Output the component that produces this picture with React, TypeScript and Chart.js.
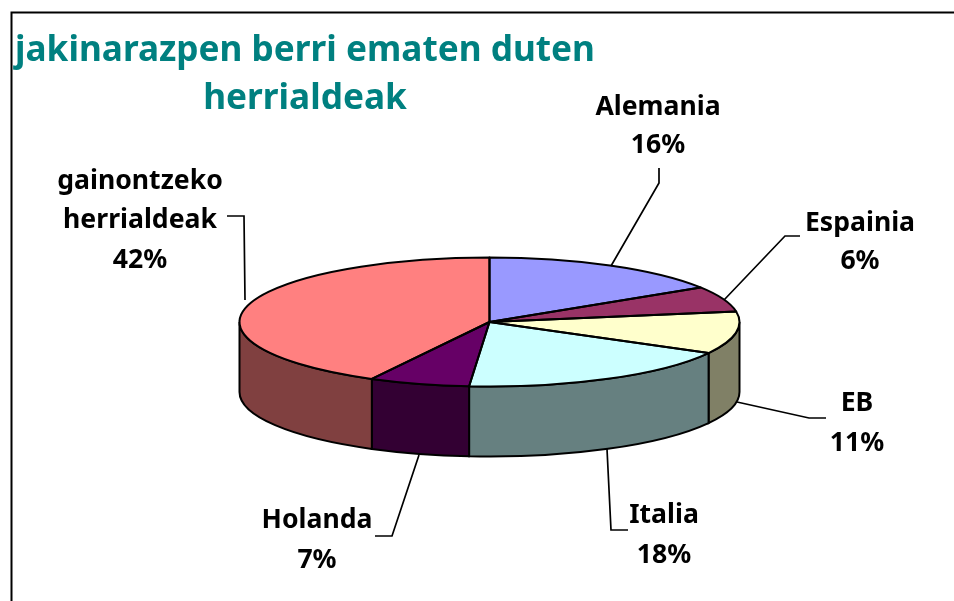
import React, { useEffect, useRef } from "react";
import { Chart, registerables } from "chart.js";

Chart.register(...registerables);

const categories = ["Alemania", "Espainia", "EB", "Italia", "Holanda", "gainontzeko herrialdeak"];
const shares = [16, 6.4, 10.6, 18.3, 6.5, 42.2];
const topColors = ["#9999FF", "#993366", "#FFFFCC", "#CCFFFF", "#660066", "#FF8080"];
const wallColors = ["#4D4D80", "#4D1A33", "#808066", "#668080", "#330033", "#804040"];
const titleLines = ["jakinarazpen berri ematen duten", "herrialdeak"];

const FONT = '"Noto Sans", sans-serif';
const SQUASH = 64.5 / 250;
const DEPTH = 70;

const labelLayout = [
  { x: 658, y: [115, 153], leader: [[659, 168], [659, 183], [611, 266]] },
  { x: 860, y: [231, 269], leader: [[800, 236], [785, 236], [724, 300]] },
  { x: 857, y: [411, 451], leader: [[826, 418], [809, 418], [737, 402]] },
  { x: 664, y: [523, 563], leader: [[628, 530], [611, 530], [607, 449]] },
  { x: 317, y: [528, 568], leader: [[375, 536], [392, 536], [419, 455]] },
  { x: 140, y: [189, 228, 268], leader: [[227, 216], [244, 216], [245, 300]] },
];

const pie3d = {
  id: "pie3d",
  beforeDraw(chart: any) {
    const { ctx } = chart;
    ctx.save();
    ctx.fillStyle = "#FFFFFF";
    ctx.fillRect(0, 0, chart.width, chart.height);
    ctx.strokeStyle = "#000000";
    ctx.lineWidth = 2;
    ctx.beginPath();
    ctx.moveTo(11.5, chart.height);
    ctx.lineTo(11.5, 12.5);
    ctx.lineTo(chart.width, 12.5);
    ctx.stroke();
    ctx.restore();
  },
  beforeDatasetsDraw(chart: any) {
    const { ctx } = chart;
    const arcs = chart.getDatasetMeta(0).data;
    ctx.save();
    ctx.strokeStyle = "#000000";
    ctx.lineWidth = 2;
    arcs.forEach((arc: any, i: number) => {
      const a0 = Math.max(arc.startAngle, 0);
      const a1 = Math.min(arc.endAngle, Math.PI);
      if (a1 <= a0) return;
      const rx = arc.outerRadius;
      const ry = rx * SQUASH;
      ctx.beginPath();
      ctx.ellipse(arc.x, arc.y, rx, ry, 0, a0, a1);
      ctx.ellipse(arc.x, arc.y + DEPTH, rx, ry, 0, a1, a0, true);
      ctx.closePath();
      ctx.fillStyle = wallColors[i];
      ctx.fill();
      ctx.stroke();
    });
    ctx.restore();
    const first = arcs[0];
    ctx.save();
    ctx.translate(first.x, first.y);
    ctx.scale(1, SQUASH);
    ctx.translate(-first.x, -first.y);
  },
  afterDatasetsDraw(chart: any) {
    const { ctx } = chart;
    ctx.restore();
    const arcs = chart.getDatasetMeta(0).data;
    ctx.save();
    ctx.strokeStyle = "#000000";
    ctx.lineWidth = 2;
    ctx.lineJoin = "round";
    arcs.forEach((arc: any) => {
      const rx = arc.outerRadius;
      ctx.beginPath();
      ctx.moveTo(arc.x, arc.y);
      ctx.ellipse(arc.x, arc.y, rx, rx * SQUASH, 0, arc.startAngle, arc.endAngle);
      ctx.closePath();
      ctx.stroke();
    });
    ctx.restore();
  },
  afterDraw(chart: any) {
    const { ctx } = chart;
    ctx.save();
    ctx.textAlign = "center";
    ctx.textBaseline = "alphabetic";
    ctx.fillStyle = "#008080";
    ctx.font = `bold 35.2px ${FONT}`;
    ctx.fillText(titleLines[0], 305, 61);
    ctx.fillText(titleLines[1], 305, 109);

    ctx.fillStyle = "#000000";
    ctx.font = `bold 26.6px ${FONT}`;
    labelLayout.forEach((lay, i) => {
      const lines = [...categories[i].split(" "), `${Math.round(shares[i])}%`];
      lines.forEach((line, j) => ctx.fillText(line, lay.x, lay.y[j]));
      ctx.beginPath();
      ctx.strokeStyle = "#000000";
      ctx.lineWidth = 1.7;
      lay.leader.forEach(([x, y], j) => (j ? ctx.lineTo(x, y) : ctx.moveTo(x, y)));
      ctx.stroke();
    });
    ctx.restore();
  },
};

export default function App() {
  const ref = useRef<HTMLCanvasElement>(null);
  useEffect(() => {
    const chart = new Chart(ref.current!, {
      type: "pie",
      data: {
        labels: categories,
        datasets: [{ data: shares, backgroundColor: topColors, borderWidth: 0 }],
      },
      options: {
        animation: false,
        responsive: false,
        layout: { padding: { left: 239, right: 214, top: 72, bottom: 29 } },
        plugins: { legend: { display: false }, tooltip: { enabled: false }, title: { display: false } },
      },
      plugins: [pie3d],
    } as any);
    return () => chart.destroy();
  }, []);
  return (
    <canvas
      ref={ref}
      width={954}
      height={601}
      style={{ position: "absolute", left: 0, top: 0, width: 954, height: 601, display: "block" }}
    />
  );
}
